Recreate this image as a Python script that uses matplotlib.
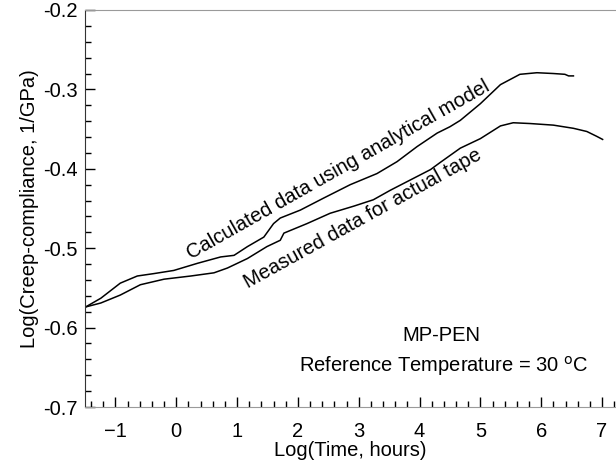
import matplotlib
matplotlib.use("Agg")
import matplotlib.pyplot as plt
from matplotlib.ticker import MultipleLocator

plt.rcParams['font.family'] = ['Liberation Sans', 'DejaVu Sans']

# Calculated data using analytical model
calc_x = [-1.49, -1.24, -0.92, -0.64, -0.37, -0.04, 0.35, 0.73, 0.95, 1.17, 1.44, 1.60, 1.71,
          2.04, 2.42, 2.86, 3.30, 3.63, 3.96, 4.29, 4.50, 4.67, 5.00, 5.33, 5.65, 5.93, 6.20,
          6.39, 6.45, 6.53]
calc_y = [-0.574, -0.563, -0.544, -0.535, -0.532, -0.528, -0.519, -0.511, -0.509, -0.498,
          -0.486, -0.469, -0.462, -0.452, -0.437, -0.420, -0.406, -0.391, -0.372, -0.355,
          -0.347, -0.339, -0.318, -0.294, -0.281, -0.279, -0.280, -0.281, -0.283, -0.283]

# Measured data for actual tape
meas_x = [-1.49, -1.24, -0.92, -0.59, -0.20, 0.24, 0.62, 0.84, 1.17, 1.49, 1.71, 1.77,
          2.15, 2.53, 2.92, 3.24, 3.52, 3.85, 4.18, 4.34, 4.67, 5.00, 5.33, 5.54, 5.82,
          6.20, 6.53, 6.75, 6.91, 7.01]
meas_y = [-0.574, -0.569, -0.559, -0.546, -0.539, -0.535, -0.531, -0.525, -0.513, -0.498,
          -0.490, -0.481, -0.469, -0.456, -0.447, -0.439, -0.427, -0.414, -0.401, -0.392,
          -0.374, -0.362, -0.346, -0.342, -0.343, -0.345, -0.349, -0.353, -0.359, -0.363]

x_ticks = [-1, 0, 1, 2, 3, 4, 5, 6, 7]
y_ticks = [-0.7, -0.6, -0.5, -0.4, -0.3, -0.2]

FS = 14.5

fig = plt.figure(figsize=(6.16, 4.65), dpi=100)
ax = fig.add_axes([0.138, 0.1247, 0.862, 0.8538])

ax.plot(calc_x, calc_y, color='black', lw=1.1)
ax.plot(meas_x, meas_y, color='black', lw=1.1)

ax.set_xlim(-1.5, 7.23)
ax.set_ylim(-0.7, -0.2)
ax.set_xticks(x_ticks)
ax.set_yticks(y_ticks)
ax.set_yticklabels(['-0.7', '-0.6', '-0.5', '-0.4', '-0.3', '-0.2'])
ax.xaxis.set_minor_locator(MultipleLocator(0.2))
ax.yaxis.set_minor_locator(MultipleLocator(0.02))
ax.tick_params(which='both', direction='in', top=False, right=False, labelsize=FS, colors='black')
ax.tick_params(which='major', length=7, width=1.0)
ax.tick_params(which='minor', length=4, width=1.0)
ax.tick_params(axis='x', which='major', pad=11)
ax.tick_params(axis='y', which='major', pad=5)

ax.spines['right'].set_visible(False)
ax.spines['top'].set_color('#9a9a9a')
ax.spines['bottom'].set_color('#9a9a9a')
ax.spines['left'].set_color('#333333')

ax.set_xlabel('Log(Time, hours)', fontsize=FS, labelpad=0)
ax.set_ylabel('Log(Creep-compliance, 1/GPa)', fontsize=FS, labelpad=3)

ax.text(2.67, -0.4015, 'Calculated data using analytical model', fontsize=FS,
        rotation=29.5, ha='center', va='center', rotation_mode='anchor')
ax.text(3.06, -0.463, 'Measured data for actual tape', fontsize=FS,
        rotation=29, ha='center', va='center', rotation_mode='anchor')
ax.text(4.36, -0.610, 'MP-PEN', fontsize=FS, ha='center', va='center')
ax.text(4.40, -0.6485, 'Reference Temperature = 30 $^{\\mathrm{o}}$C', fontsize=FS,
        ha='center', va='center')

fig.savefig('out.png', dpi=100)
